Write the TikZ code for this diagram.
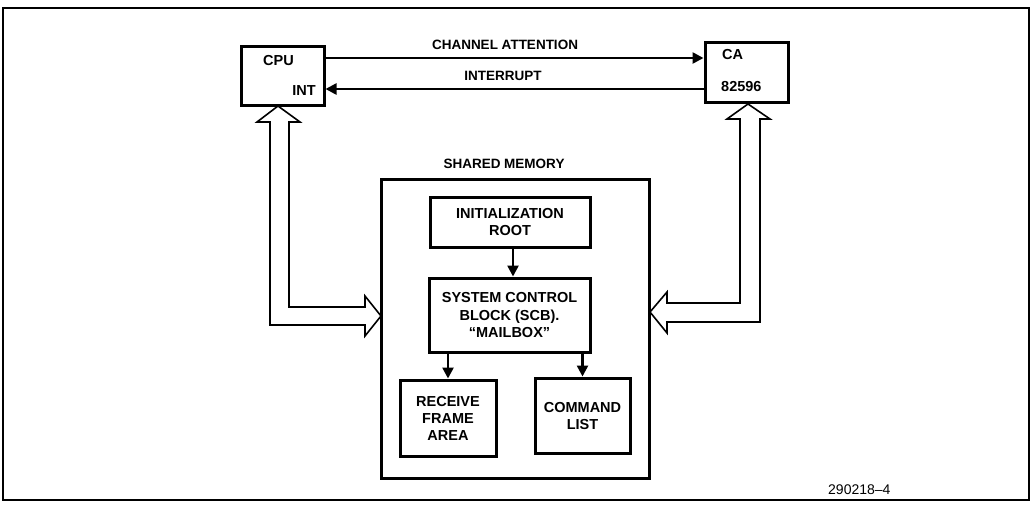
\documentclass[tikz,border=0pt]{standalone}
\usepackage{fontspec}
\setmainfont{Liberation Sans}
\usetikzlibrary{arrows.meta}
\begin{document}
\begin{tikzpicture}[x=1pt,y=-1pt,
  every node/.style={font=\fontsize{14.5}{17}\selectfont\bfseries, inner sep=0pt},
  box/.style={draw, line width=3pt, align=center},
  lbl/.style={font=\fontsize{13.5}{16}\selectfont\bfseries},
  conn/.style={line width=2.5pt, -{Triangle[length=11pt,width=11pt]}},
  hollow/.style={draw, line width=1.6pt, fill=white, line join=miter}]
\useasboundingbox (0,0) rectangle (1035,504);
\draw[line width=1.3pt] (3,8) rectangle (1029,500);
% top boxes
\node[box, minimum width=83pt, minimum height=59pt] (cpu) at (282.5,75.5) {};
\node[anchor=west] (cputxt) at (263,61) {CPU};
\node[anchor=east] (inttxt) at (316,91) {INT};
\node[box, minimum width=83pt, minimum height=60pt] (chip) at (746.5,72) {};
\node[anchor=west] (catxt) at (722,55) {CA};
\node[anchor=west] (chiptxt) at (721,87) {82596};
% signal lines
\draw[conn] (cpu.east |- 0,58) -- (chip.west |- 0,58);
\draw[conn] (chip.west |- 0,89) -- (cpu.east |- 0,89);
\node[lbl] (calbl) at (505,45) {CHANNEL ATTENTION};
\node[lbl] (intlbl) at (503,76) {INTERRUPT};
% shared memory
\node[lbl] (smlbl) at (504,164) {SHARED MEMORY};
\node[box, minimum width=268pt, minimum height=299pt] (sm) at (515,328.5) {};
\node[box, minimum width=160pt, minimum height=50pt] (init) at (510,222) {INITIALIZATION\\ROOT};
\node[box, minimum width=161pt, minimum height=74pt] (scb) at (509.5,315) {SYSTEM CONTROL\\BLOCK (SCB).\\``MAILBOX''};
\node[box, minimum width=96pt, minimum height=76pt] (rfa) at (448,418) {RECEIVE\\FRAME\\AREA};
\node[box, minimum width=95pt, minimum height=75pt] (cl) at (582.5,415.5) {COMMAND\\LIST};
\draw[conn] (init.south -| 513,0) -- (scb.north -| 513,0);
\draw[conn] (scb.south -| rfa.north) -- (rfa.north);
\draw[conn] (scb.south -| cl.north) -- (cl.north);
% hollow arrows
\draw[hollow] (278,106) -- (300,122) -- (289,122) -- (289,307) -- (365,307) -- (365,296)
  -- (381,316) -- (365,336) -- (365,325) -- (270,325) -- (270,122) -- (257,122) -- cycle;
\draw[hollow] (748,104) -- (770,119) -- (760,119) -- (760,322) -- (667,322) -- (667,333)
  -- (650,312) -- (667,292) -- (667,303) -- (740,303) -- (740,119) -- (727,119) -- cycle;
\node[font=\fontsize{14}{16}\selectfont, anchor=west] (fig) at (828,490) {290218--4};
\end{tikzpicture}
\end{document}
